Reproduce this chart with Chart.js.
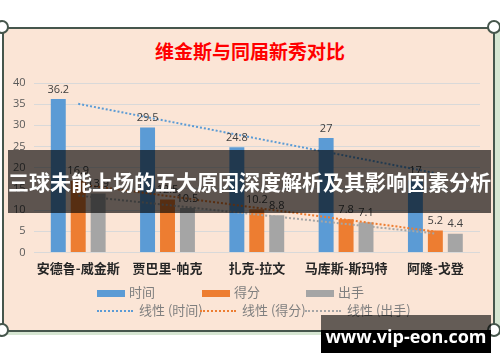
<!DOCTYPE html>
<html>
<head>
<meta charset="utf-8">
<script src="https://cdn.jsdelivr.net/npm/chart.js@4/dist/chart.umd.min.js"></script>
<style>
	body{margin:0;width:500px;height:362px;background:#fff;position:relative;overflow:hidden;font-family:"Noto Sans CJK SC",sans-serif;}
	#sombra{position:absolute;left:6px;top:31px;width:494px;height:304px;background:#d6e6d2;}
	#panel{position:absolute;left:2px;top:27px;width:489px;height:301px;background:#fbe5d6;border:2px solid #46564c;}
	.esquina{position:absolute;width:10px;height:10px;border-radius:50%;background:#fff;border:2px solid #46564c;}
	#titulo{position:absolute;left:0;width:500px;top:38px;text-align:center;color:#ff0000;font-weight:bold;font-size:19px;line-height:26px;}
	#grafica{position:absolute;left:0;top:0;}
	#leyenda{position:absolute;left:0;top:283px;font-size:13px;color:#7f7f7f;}
	.item{position:absolute;white-space:nowrap;line-height:16px;}
	.caja{display:inline-block;width:28px;height:7px;vertical-align:middle;margin-right:4px;}
	.punteado{display:inline-block;width:36px;height:0;border-top:2px dotted;vertical-align:middle;margin-right:6px;}
	#banda{position:absolute;left:8px;top:150px;width:483px;height:63px;background:rgba(0,0,0,0.63);color:#fff;font-weight:bold;font-size:21px;line-height:63px;text-align:center;white-space:nowrap;}
	#marca{position:absolute;left:321px;top:315px;width:170px;height:38px;background:linear-gradient(to bottom,rgba(0,0,0,0.6) 0,rgba(0,0,0,0.6) 15px,#000 15px,#000 100%);color:#fff;font-family:"Open Sans",sans-serif;font-weight:bold;font-size:18px;line-height:42px;text-align:center;white-space:nowrap;}
</style>
</head>
<body>
<div id="sombra"></div>
<div id="panel"></div>
<div class="esquina" style="left:-5px;top:20px"></div>
<div class="esquina" style="left:487px;top:20px"></div>
<div class="esquina" style="left:-5px;top:323px"></div>
<div class="esquina" style="left:487px;top:323px"></div>
<div id="titulo">维金斯与同届新秀对比</div>
<canvas id="grafica" width="500" height="362"></canvas>
<div id="leyenda">
	<div class="item" style="left:97px;top:1px"><span class="caja" style="background:#5b9bd5"></span>时间</div>
	<div class="item" style="left:202px;top:1px"><span class="caja" style="background:#ed7d31"></span>得分</div>
	<div class="item" style="left:306px;top:1px"><span class="caja" style="background:#a5a5a5"></span>出手</div>
	<div class="item" style="left:97px;top:19px"><span class="punteado" style="border-color:#5b9bd5"></span>线性 (时间)</div>
	<div class="item" style="left:200px;top:19px"><span class="punteado" style="border-color:#ed7d31"></span>线性 (得分)</div>
	<div class="item" style="left:305px;top:19px"><span class="punteado" style="border-color:#a5a5a5"></span>线性 (出手)</div>
</div>
<div id="banda">三球未能上场的五大原因深度解析及其影响因素分析</div>
<div id="marca">www.vip-eon.com</div>
<script>
var jugadores = ['安德鲁-威金斯', '贾巴里-帕克', '扎克-拉文', '马库斯-斯玛特', '阿隆-戈登'];
var tiempo = [36.2, 29.5, 24.8, 27, 17];
var puntos = [16.9, 12.5, 10.2, 7.8, 5.2];
var tiros = [13.9, 10.5, 8.8, 7.1, 4.4];
var ticksY = [0, 5, 10, 15, 20, 25, 30, 35, 40];

// linea de tendencia (minimos cuadrados), como la de Excel
function tendencia(valores){
	var n = valores.length, sx = 0, sy = 0, sxy = 0, sxx = 0;
	for (var i = 0; i < n; i++) {
		sx += i; sy += valores[i]; sxy += i*valores[i]; sxx += i*i;
	}
	var m = (n*sxy - sx*sy) / (n*sxx - sx*sx);
	var b = (sy - m*sx) / n;
	var res = [];
	for (var j = 0; j < n; j++) { res.push(+(m*j + b).toFixed(3)); }
	return res;
}

var etiquetas = {
	id: 'etiquetas',
	afterDatasetsDraw: function(chart){
		var ctx = chart.ctx;
		ctx.save();
		ctx.font = '11px "Open Sans", sans-serif';
		ctx.fillStyle = '#404040';
		ctx.textAlign = 'center';
		ctx.textBaseline = 'bottom';
		chart.data.datasets.forEach(function(ds, i){
			if (ds.type === 'line') return;
			chart.getDatasetMeta(i).data.forEach(function(el, k){
				ctx.fillText(ds.data[k], el.x, el.y - 4);
			});
		});
		ctx.restore();
	}
};

var linea = function(nombre, datos, color){
	return {
		type: 'line', label: nombre, data: tendencia(datos),
		borderColor: color, borderWidth: 2, borderDash: [2, 2],
		pointRadius: 0, fill: false, order: 0
	};
};

new Chart(document.getElementById('grafica'), {
	type: 'bar',
	data: {
		labels: jugadores,
		datasets: [
			{label: '时间', data: tiempo, backgroundColor: '#5b9bd5', order: 1},
			{label: '得分', data: puntos, backgroundColor: '#ed7d31', order: 1},
			{label: '出手', data: tiros, backgroundColor: '#a5a5a5', order: 1},
			linea('线性 (时间)', tiempo, '#5b9bd5'),
			linea('线性 (得分)', puntos, '#ed7d31'),
			linea('线性 (出手)', tiros, '#a5a5a5')
		]
	},
	options: {
		responsive: false,
		animation: false,
		datasets: {bar: {categoryPercentage: 0.67, barPercentage: 0.75}},
		layout: {padding: {left: 5, right: 20, top: 83, bottom: 86}},
		plugins: {legend: {display: false}, tooltip: {enabled: false}},
		scales: {
			x: {
				grid: {display: false},
				border: {display: false},
				ticks: {color: '#262626', padding: 0, autoSkip: false, minRotation: 0, maxRotation: 0,
					font: {family: '"Noto Sans CJK SC"', size: 13, weight: 'bold'}}
			},
			y: {
				min: 0, max: 40,
				afterBuildTicks: function(axis){ axis.ticks = ticksY.map(function(v){ return {value: v}; }); },
				grid: {color: '#d9d9d9', drawTicks: false},
				border: {display: false},
				ticks: {color: '#595959', padding: 8, font: {family: '"Open Sans"', size: 11}}
			}
		}
	},
	plugins: [etiquetas]
});
</script>
</body>
</html>
